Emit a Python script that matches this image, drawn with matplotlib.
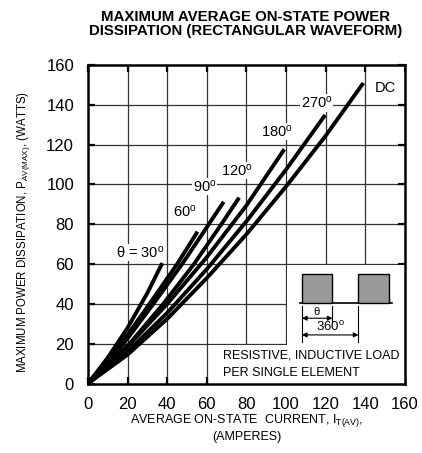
import matplotlib
matplotlib.use("Agg")
import matplotlib.pyplot as plt
from matplotlib.patches import Rectangle

plt.rcParams['font.family'] = ['Liberation Sans', 'DejaVu Sans']
plt.rcParams['mathtext.default'] = 'regular'

# curves: average current (A) vs. power (W)
i_30 = [0, 10, 20, 30, 37.5]
p_30 = [0, 13, 28, 45.5, 60.5]
i_60 = [0, 10, 20, 30, 45, 55.3]
p_60 = [0, 11.5, 24.5, 38.5, 60, 76.3]
i_90 = [0, 18, 33, 47.5, 58.5, 68.5]
p_90 = [0, 20, 40, 60, 76.3, 91.3]
i_120 = [0, 21, 38, 53.5, 67.3, 76.3]
p_120 = [0, 20, 40, 60, 80, 93.4]
i_180 = [0, 20, 40, 60, 80, 99.1]
p_180 = [0, 18.5, 40, 63.5, 89.5, 117.7]
i_270 = [0, 20, 40, 60, 80, 100, 119.7]
p_270 = [0, 16, 35.5, 57.5, 81.5, 107.5, 134.9]
i_dc = [0, 20, 40, 60, 80, 100, 120, 139]
p_dc = [0, 14.5, 32.5, 53, 75, 99, 124.5, 151]

curves = [(i_30, p_30), (i_60, p_60), (i_90, p_90), (i_120, p_120),
          (i_180, p_180), (i_270, p_270), (i_dc, p_dc)]

# curve labels and where they sit
labels = [r'$\theta$ = 30$^{o}$', '60$^{o}$', '90$^{o}$', '120$^{o}$',
          '180$^{o}$', '270$^{o}$', 'DC']
label_x = [26.3, 49, 59, 75, 95.3, 115.5, 150]
label_y = [65.7, 86.3, 99, 107, 126.5, 141, 148.5]

ticks = [0, 20, 40, 60, 80, 100, 120, 140, 160]

fig = plt.figure(figsize=(4.22, 4.53), dpi=100)
ax = fig.add_axes([0.2085, 0.1534, 0.7512, 0.7031])

ax.set_xlim(0, 160)
ax.set_ylim(0, 160)
ax.set_xticks(ticks)
ax.set_yticks(ticks)
ax.tick_params(direction='in', length=5, width=1.6, top=True, right=True,
               labelsize=12, pad=10)

# grid
for t in ticks[1:-1]:
    ax.axvline(t, color='#333333', lw=0.9, zorder=1)
    ax.axhline(t, color='#333333', lw=0.9, zorder=1)

# blank regions behind the inset and the note
ax.add_patch(Rectangle((100.6, 0), 60, 59.4, facecolor='white', edgecolor='none', zorder=2.6))
ax.add_patch(Rectangle((61, 0), 100, 19.4, facecolor='white', edgecolor='none', zorder=2.6))

for s in ax.spines.values():
    s.set_linewidth(1.8)
    s.set_zorder(3)

for x, y in curves:
    ax.plot(x, y, color='black', lw=2.8, solid_capstyle='butt',
            solid_joinstyle='round', zorder=4)

for lab, x, y in zip(labels, label_x, label_y):
    ax.text(x, y, lab, fontsize=10.5, ha='center', va='center', zorder=5,
            bbox=dict(facecolor='white', edgecolor='none', pad=0.5))

# waveform sketch
ax.plot([107, 153.4], [40.3, 40.3], color='black', lw=1.2, zorder=5)
for x0 in [108, 136.5]:
    ax.add_patch(Rectangle((x0, 40.3), 15.4, 14.7, facecolor='#999999',
                           edgecolor='black', lw=1.0, zorder=5))
for x0, y1 in [(108, 21), (123.4, 31), (136.5, 21)]:
    ax.plot([x0, x0], [y1, 39], color='black', lw=0.8, zorder=5)
ax.annotate('', xy=(108, 32.8), xytext=(123.4, 32.8), zorder=5,
            arrowprops=dict(arrowstyle='<|-|>', color='black', lw=0.8,
                            mutation_scale=7, shrinkA=0, shrinkB=0))
ax.annotate('', xy=(108, 24.4), xytext=(136.5, 24.4), zorder=5,
            arrowprops=dict(arrowstyle='<|-|>', color='black', lw=0.8,
                            mutation_scale=7, shrinkA=0, shrinkB=0))
ax.text(115.7, 33.4, r'$\theta$', fontsize=8, ha='center', va='bottom', zorder=5)
ax.text(122.2, 25.0, '360$^{o}$', fontsize=9.5, ha='center', va='bottom', zorder=5)

ax.text(68, 14.3, 'RESISTIVE, INDUCTIVE LOAD', fontsize=9, ha='left', va='center', zorder=5)
ax.text(68, 5.3, 'PER SINGLE ELEMENT', fontsize=9, ha='left', va='center', zorder=5)

# axis titles
ax.text(-0.205, 0.477, 'MAXIMUM POWER DISSIPATION, P$_{AV(MAX)}$, (WATTS)',
        transform=ax.transAxes, rotation=90, fontsize=8.3, ha='center', va='center')
ax.text(0.5, -0.115, 'AVERAGE ON-STATE  CURRENT, I$_{T(AV)}$,',
        transform=ax.transAxes, fontsize=9, ha='center', va='center')
ax.text(0.5, -0.168, '(AMPERES)', transform=ax.transAxes, fontsize=9,
        ha='center', va='center')

fig.text(0.583, 0.962, 'MAXIMUM AVERAGE ON-STATE POWER', fontsize=10.8,
         fontweight='bold', ha='center', va='center')
fig.text(0.583, 0.932, 'DISSIPATION (RECTANGULAR WAVEFORM)', fontsize=10.8,
         fontweight='bold', ha='center', va='center')

fig.savefig('out.png', dpi=100)
